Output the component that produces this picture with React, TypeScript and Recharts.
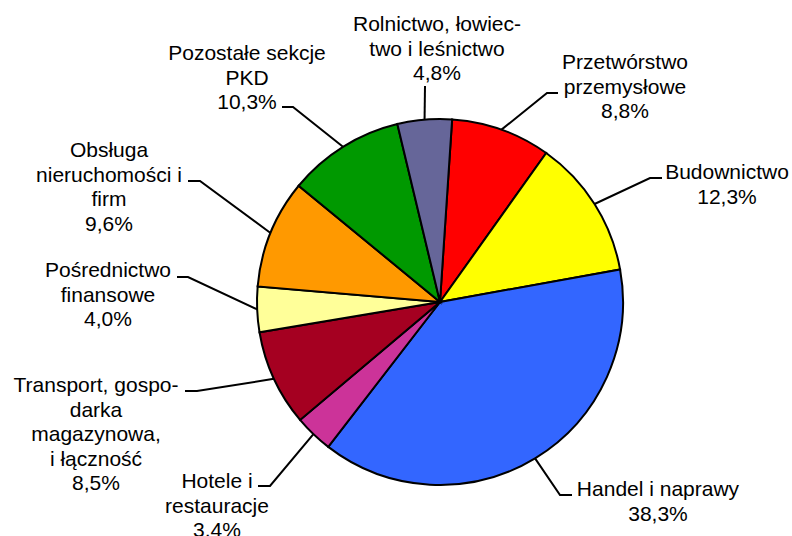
import React from "react";
import { PieChart, Pie, Cell } from "recharts";

const categories = [
  "Przetwórstwo przemysłowe",
  "Budownictwo",
  "Handel i naprawy",
  "Hotele i restauracje",
  "Transport, gospodarka magazynowa, i łączność",
  "Pośrednictwo finansowe",
  "Obsługa nieruchomości i firm",
  "Pozostałe sekcje PKD",
  "Rolnictwo, łowiectwo i leśnictwo",
];
const shares = [8.8, 12.3, 38.3, 3.4, 8.5, 4.0, 9.6, 10.3, 4.8];
const labelLines = [
  ["Przetwórstwo", "przemysłowe"],
  ["Budownictwo"],
  ["Handel i naprawy"],
  ["Hotele i", "restauracje"],
  ["Transport, gospo-", "darka", "magazynowa,", "i łączność"],
  ["Pośrednictwo", "finansowe"],
  ["Obsługa", "nieruchomości i", "firm"],
  ["Pozostałe sekcje", "PKD"],
  ["Rolnictwo, łowiec-", "two i leśnictwo"],
];
const colors = [
  "#FF0000",
  "#FFFF00",
  "#3366FF",
  "#CC3399",
  "#A50021",
  "#FFFF99",
  "#FF9900",
  "#009900",
  "#666699",
];

// label layout (styling): elbow point, end of horizontal tick, text center x, first line center y
const labelLayout = [
  { ex: 547, ey: 93, hx: 558, tx: 625, ty: 62 },
  { ex: 650, ey: 178, hx: 662, tx: 727, ty: 172 },
  { ex: 560, ey: 495, hx: 572, tx: 658, ty: 489 },
  { ex: 270, ey: 486, hx: 258, tx: 217, ty: 481 },
  { ex: 197, ey: 391, hx: 185, tx: 96, ty: 385 },
  { ex: 188, ey: 277, hx: 177, tx: 108, ty: 270 },
  { ex: 200, ey: 181, hx: 188, tx: 109, ty: 150 },
  { ex: 293, ey: 107, hx: 282, tx: 247, ty: 53 },
  { ex: 425, ey: 86, hx: 425, tx: 437, ty: 24 },
];

const data = categories.map((name, i) => ({ name, value: shares[i] }));

const RAD = Math.PI / 180;
const LINE_H = 24.6;

const fmt = (v: number) => v.toFixed(1).replace(".", ",") + "%";

const renderLabel = (props: any) => {
  const { cx, cy, midAngle, outerRadius, index, value } = props;
  const L = labelLayout[index];
  const px = cx + Math.cos(-midAngle * RAD) * outerRadius;
  const py = cy + Math.sin(-midAngle * RAD) * outerRadius;
  const lines = [...labelLines[index], fmt(value)];
  return (
    <g key={`lbl-${index}`}>
      <path
        d={`M${px},${py} L${L.ex},${L.ey} L${L.hx},${L.ey}`}
        stroke="#000"
        strokeWidth={2}
        fill="none"
      />
      <text
        textAnchor="middle"
        fontFamily="'Liberation Sans', Arial, sans-serif"
        fontSize={21}
        fill="#000"
      >
        {lines.map((ln, k) => (
          <tspan key={k} x={L.tx} y={L.ty + 7 + k * LINE_H}>
            {ln}
          </tspan>
        ))}
      </text>
    </g>
  );
};

export default function App() {
  return (
    <div style={{ position: "absolute", left: 0, top: 0, width: 792, height: 536, background: "#fff" }}>
      <PieChart width={792} height={536} margin={{ top: 0, right: 0, bottom: 0, left: 0 }}>
        <Pie
          data={data}
          dataKey="value"
          nameKey="name"
          cx={440}
          cy={302}
          outerRadius={183}
          startAngle={86.2}
          endAngle={-273.8}
          stroke="#000"
          strokeWidth={2}
          label={renderLabel}
          labelLine={false}
          isAnimationActive={false}
        >
          {data.map((d, i) => (
            <Cell key={d.name} fill={colors[i]} />
          ))}
        </Pie>
      </PieChart>
    </div>
  );
}
